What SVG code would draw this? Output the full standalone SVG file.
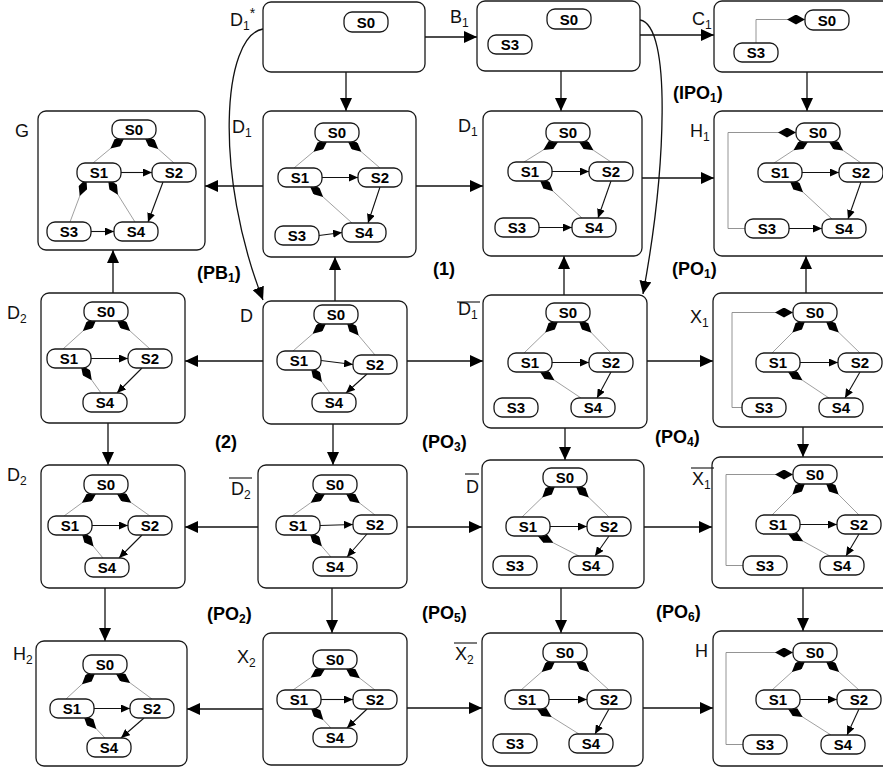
<svg xmlns="http://www.w3.org/2000/svg" width="883" height="771" viewBox="0 0 883 771">
<style>
.bx{fill:#fff;stroke:#1a1a1a;stroke-width:1.3}
.st{fill:#fff;stroke:#1a1a1a;stroke-width:1.3}
.t{font-family:"Liberation Sans",Arial,sans-serif;font-weight:bold;font-size:15px;text-anchor:middle;fill:#000}
.lb{font-family:"Liberation Sans",Arial,sans-serif;font-size:18px;fill:#111}
.op{font-family:"Liberation Sans",Arial,sans-serif;font-weight:bold;font-size:18px;fill:#000}
.cl{stroke:#888;stroke-width:0.8;fill:none;marker-end:url(#dia)}
.ar{stroke:#111;stroke-width:1.1;fill:none;marker-end:url(#sa)}
.lp{stroke:#888;stroke-width:0.9;fill:none;marker-end:url(#diaH)}
.e{stroke:#111;stroke-width:1.3;fill:none;marker-end:url(#ea)}
.ov{stroke:#111;stroke-width:1.1}
</style>
<defs>
<marker id="ea" markerUnits="userSpaceOnUse" viewBox="0 0 13 12" refX="13" refY="6" markerWidth="13" markerHeight="12" orient="auto"><path d="M0,0L13,6L0,12z" fill="#000"/></marker>
<marker id="sa" markerUnits="userSpaceOnUse" viewBox="0 0 9 8" refX="9" refY="4" markerWidth="9" markerHeight="8" orient="auto"><path d="M0,0L9,4L0,8z" fill="#000"/></marker>
<marker id="dia" markerUnits="userSpaceOnUse" viewBox="0 0 19 9" refX="15" refY="4.5" markerWidth="19" markerHeight="9" orient="auto"><path d="M0,4.5L9,0L19,4.5L9,9z" fill="#000"/></marker>
<marker id="diaH" markerUnits="userSpaceOnUse" viewBox="0 0 18 10" refX="18" refY="5" markerWidth="18" markerHeight="10" orient="auto"><path d="M0,5L9,0L18,5L9,10z" fill="#000"/></marker>
</defs>
<rect width="883" height="771" fill="#fff"/>

<g id="connectors">
<path class="e" d="M425,37H477"/>
<path class="e" d="M640,35H714"/>
<path class="e" d="M346,72V111"/>
<path class="e" d="M561,71V111"/>
<path class="e" d="M807,72V111"/>
<path class="e" d="M263,186H205"/>
<path class="e" d="M416,186H483"/>
<path class="e" d="M642,178H714"/>
<path class="e" d="M113,293V250"/>
<path class="e" d="M335,301V257"/>
<path class="e" d="M564,295V256"/>
<path class="e" d="M806,293V256"/>
<path class="e" d="M263,361H185"/>
<path class="e" d="M407,361H483"/>
<path class="e" d="M647,361H713"/>
<path class="e" d="M108,423V465"/>
<path class="e" d="M333,424V465"/>
<path class="e" d="M565,428V460"/>
<path class="e" d="M803,427V457"/>
<path class="e" d="M258,527H185"/>
<path class="e" d="M407,527H482"/>
<path class="e" d="M644,527H712"/>
<path class="e" d="M105,588V641"/>
<path class="e" d="M332,588V633"/>
<path class="e" d="M561,588V633"/>
<path class="e" d="M803,588V631"/>
<path class="e" d="M263,709H187"/>
<path class="e" d="M407,708H482"/>
<path class="e" d="M643,708H713"/>
<path class="e" d="M263,29C222,36 214,175 263,300"/>
<path class="e" d="M640,20C672,25 666,170 643,294"/>
</g>

<g id="D1star">
<rect class="bx" x="263" y="2" width="162" height="70" rx="8"/>
<rect class="st" x="344" y="12" width="44" height="20" rx="8"/><text class="t" x="366" y="27.5">S0</text>
<text class="lb" x="230" y="26">D<tspan font-size="12" dy="4">1</tspan><tspan font-size="14" dy="-12">*</tspan></text>
</g>

<g id="B1">
<rect class="bx" x="477" y="1" width="163" height="70" rx="8"/>
<rect class="st" x="547" y="9" width="44" height="20" rx="8"/><text class="t" x="569" y="24.5">S0</text>
<rect class="st" x="488" y="35" width="44" height="19" rx="8"/><text class="t" x="510" y="50">S3</text>
<text class="lb" x="450" y="23">B<tspan font-size="12" dy="4">1</tspan></text>
</g>

<g id="C1">
<rect class="bx" x="714" y="1" width="185" height="71" rx="8"/>
<path class="lp" d="M756,43V19.5H805"/>
<rect class="st" x="805" y="10" width="44" height="20" rx="8"/><text class="t" x="827" y="25.5">S0</text>
<rect class="st" x="734" y="43" width="44" height="19" rx="8"/><text class="t" x="756" y="58">S3</text>
<text class="lb" x="692" y="25">C<tspan font-size="12" dy="4">1</tspan></text>
</g>

<g id="G">
<rect class="bx" x="38" y="111" width="167" height="139" rx="8"/>
<path class="cl" d="M93,163L122,139"/>
<path class="cl" d="M174,163L147,139"/>
<path class="ar" d="M121,172.5H152"/>
<path class="ar" d="M163,182L148,222"/>
<path class="cl" d="M135,222L110,182"/>
<path class="cl" d="M70,222L85,182"/>
<path class="ar" d="M91,231.5H114"/>
<rect class="st" x="112" y="120" width="44" height="19" rx="8"/><text class="t" x="134" y="135">S0</text>
<rect class="st" x="77" y="163" width="44" height="19" rx="8"/><text class="t" x="99" y="178">S1</text>
<rect class="st" x="152" y="163" width="44" height="19" rx="8"/><text class="t" x="174" y="178">S2</text>
<rect class="st" x="47" y="222" width="44" height="19" rx="8"/><text class="t" x="69" y="237">S3</text>
<rect class="st" x="114" y="222" width="44" height="19" rx="8"/><text class="t" x="136" y="237">S4</text>
<text class="lb" x="15" y="137">G</text>
</g>

<g id="D1a">
<rect class="bx" x="263" y="111" width="153" height="146" rx="8"/>
<path class="cl" d="M294,168L325,142"/>
<path class="cl" d="M380,168L350,142"/>
<path class="ar" d="M322,177.5H358"/>
<path class="ar" d="M380,187L368,223"/>
<path class="cl" d="M352,223L312,187"/>
<path class="ar" d="M319,235.5L342,232.5"/>
<rect class="st" x="315" y="123" width="44" height="19" rx="8"/><text class="t" x="337" y="138">S0</text>
<rect class="st" x="278" y="168" width="44" height="19" rx="8"/><text class="t" x="300" y="183">S1</text>
<rect class="st" x="358" y="168" width="44" height="19" rx="8"/><text class="t" x="380" y="183">S2</text>
<rect class="st" x="275" y="226" width="44" height="19" rx="8"/><text class="t" x="297" y="241">S3</text>
<rect class="st" x="342" y="223" width="44" height="19" rx="8"/><text class="t" x="364" y="238">S4</text>
<text class="lb" x="232" y="133">D<tspan font-size="12" dy="4">1</tspan></text>
</g>

<g id="D1b">
<rect class="bx" x="483" y="111" width="159" height="145" rx="8"/>
<path class="cl" d="M524,162L556,142"/>
<path class="cl" d="M611,162L581,142"/>
<path class="ar" d="M552,171.5H589"/>
<path class="ar" d="M611,181L598,218"/>
<path class="cl" d="M582,218L542,181"/>
<path class="ar" d="M539,227.5H572"/>
<rect class="st" x="546" y="123" width="44" height="19" rx="8"/><text class="t" x="568" y="138">S0</text>
<rect class="st" x="508" y="162" width="44" height="19" rx="8"/><text class="t" x="530" y="177">S1</text>
<rect class="st" x="589" y="162" width="44" height="19" rx="8"/><text class="t" x="611" y="177">S2</text>
<rect class="st" x="495" y="218" width="44" height="19" rx="8"/><text class="t" x="517" y="233">S3</text>
<rect class="st" x="572" y="218" width="44" height="19" rx="8"/><text class="t" x="594" y="233">S4</text>
<text class="lb" x="458" y="132">D<tspan font-size="12" dy="4">1</tspan></text>
</g>

<g id="H1">
<rect class="bx" x="714" y="111" width="185" height="145" rx="8"/>
<path class="lp" d="M745,228.5H728V132.5H796"/>
<path class="cl" d="M774,163L806,142"/>
<path class="cl" d="M861,163L831,142"/>
<path class="ar" d="M802,172.5H839"/>
<path class="ar" d="M861,182L848,219"/>
<path class="cl" d="M832,219L792,182"/>
<path class="ar" d="M789,228.5H822"/>
<rect class="st" x="796" y="123" width="44" height="19" rx="8"/><text class="t" x="818" y="138">S0</text>
<rect class="st" x="758" y="163" width="44" height="19" rx="8"/><text class="t" x="780" y="178">S1</text>
<rect class="st" x="839" y="163" width="44" height="19" rx="8"/><text class="t" x="861" y="178">S2</text>
<rect class="st" x="745" y="219" width="44" height="19" rx="8"/><text class="t" x="767" y="234">S3</text>
<rect class="st" x="822" y="219" width="44" height="19" rx="8"/><text class="t" x="844" y="234">S4</text>
<text class="lb" x="690" y="137">H<tspan font-size="12" dy="4">1</tspan></text>
</g>

<g id="D2a">
<rect class="bx" x="41" y="293" width="144" height="130" rx="8"/>
<path class="cl" d="M63,349L94,321"/>
<path class="cl" d="M150,349L119,321"/>
<path class="ar" d="M91,358.5H128"/>
<path class="ar" d="M142,368L117,393"/>
<path class="cl" d="M101,393L83,368"/>
<rect class="st" x="84" y="302" width="44" height="19" rx="8"/><text class="t" x="106" y="317">S0</text>
<rect class="st" x="47" y="349" width="44" height="19" rx="8"/><text class="t" x="69" y="364">S1</text>
<rect class="st" x="128" y="349" width="44" height="19" rx="8"/><text class="t" x="150" y="364">S2</text>
<rect class="st" x="83" y="393" width="44" height="19" rx="8"/><text class="t" x="105" y="408">S4</text>
<text class="lb" x="7" y="319">D<tspan font-size="12" dy="4">2</tspan></text>
</g>

<g id="D">
<rect class="bx" x="263" y="301" width="144" height="123" rx="8"/>
<path class="cl" d="M293,351L324,324"/>
<path class="cl" d="M375,355L349,324"/>
<path class="ar" d="M321,360.5L353,364.5"/>
<path class="ar" d="M367,374L346,393"/>
<path class="cl" d="M330,393L313,370"/>
<rect class="st" x="314" y="305" width="44" height="19" rx="8"/><text class="t" x="336" y="320">S0</text>
<rect class="st" x="277" y="351" width="44" height="19" rx="8"/><text class="t" x="299" y="366">S1</text>
<rect class="st" x="353" y="355" width="44" height="19" rx="8"/><text class="t" x="375" y="370">S2</text>
<rect class="st" x="312" y="393" width="44" height="19" rx="8"/><text class="t" x="334" y="408">S4</text>
<text class="lb" x="240" y="322">D</text>
</g>

<g id="D1bar">
<rect class="bx" x="483" y="295" width="164" height="133" rx="8"/>
<path class="cl" d="M524,353L556,322"/>
<path class="cl" d="M611,353L581,322"/>
<path class="ar" d="M552,362.5H589"/>
<path class="ar" d="M611,372L597,398"/>
<path class="cl" d="M581,398L542,372"/>
<rect class="st" x="546" y="303" width="44" height="19" rx="8"/><text class="t" x="568" y="318">S0</text>
<rect class="st" x="508" y="353" width="44" height="19" rx="8"/><text class="t" x="530" y="368">S1</text>
<rect class="st" x="589" y="353" width="44" height="19" rx="8"/><text class="t" x="611" y="368">S2</text>
<rect class="st" x="494" y="398" width="44" height="19" rx="8"/><text class="t" x="516" y="413">S3</text>
<rect class="st" x="571" y="398" width="44" height="19" rx="8"/><text class="t" x="593" y="413">S4</text>
<text class="lb" x="458" y="315">D<tspan font-size="12" dy="4">1</tspan></text>
<line class="ov" x1="457" y1="302" x2="480" y2="302"/>
</g>

<g id="X1">
<rect class="bx" x="713" y="293" width="185" height="134" rx="8"/>
<path class="lp" d="M742,407.5H732V312.5H793"/>
<path class="cl" d="M772,353L803,322"/>
<path class="cl" d="M860,353L828,322"/>
<path class="ar" d="M800,362.5H838"/>
<path class="ar" d="M860,372L845,398"/>
<path class="cl" d="M829,398L790,372"/>
<rect class="st" x="793" y="303" width="44" height="19" rx="8"/><text class="t" x="815" y="318">S0</text>
<rect class="st" x="756" y="353" width="44" height="19" rx="8"/><text class="t" x="778" y="368">S1</text>
<rect class="st" x="838" y="353" width="44" height="19" rx="8"/><text class="t" x="860" y="368">S2</text>
<rect class="st" x="742" y="398" width="44" height="19" rx="8"/><text class="t" x="764" y="413">S3</text>
<rect class="st" x="819" y="398" width="44" height="19" rx="8"/><text class="t" x="841" y="413">S4</text>
<text class="lb" x="690" y="323">X<tspan font-size="12" dy="4">1</tspan></text>
</g>

<g id="D2b">
<rect class="bx" x="41" y="465" width="144" height="123" rx="8"/>
<path class="cl" d="M64,516L94,494"/>
<path class="cl" d="M150,516L119,494"/>
<path class="ar" d="M92,525.5H128"/>
<path class="ar" d="M142,535L119,558"/>
<path class="cl" d="M103,558L84,535"/>
<rect class="st" x="84" y="475" width="44" height="19" rx="8"/><text class="t" x="106" y="490">S0</text>
<rect class="st" x="48" y="516" width="44" height="19" rx="8"/><text class="t" x="70" y="531">S1</text>
<rect class="st" x="128" y="516" width="44" height="19" rx="8"/><text class="t" x="150" y="531">S2</text>
<rect class="st" x="85" y="558" width="44" height="19" rx="8"/><text class="t" x="107" y="573">S4</text>
<text class="lb" x="7" y="481">D<tspan font-size="12" dy="4">2</tspan></text>
</g>

<g id="D2bar">
<rect class="bx" x="258" y="465" width="149" height="123" rx="8"/>
<path class="cl" d="M292,516L323,494"/>
<path class="cl" d="M375,515L348,494"/>
<path class="ar" d="M320,525.5L353,524.5"/>
<path class="ar" d="M367,534L347,557"/>
<path class="cl" d="M331,557L312,535"/>
<rect class="st" x="313" y="475" width="44" height="19" rx="8"/><text class="t" x="335" y="490">S0</text>
<rect class="st" x="276" y="516" width="44" height="19" rx="8"/><text class="t" x="298" y="531">S1</text>
<rect class="st" x="353" y="515" width="44" height="19" rx="8"/><text class="t" x="375" y="530">S2</text>
<rect class="st" x="313" y="557" width="44" height="19" rx="8"/><text class="t" x="335" y="572">S4</text>
<text class="lb" x="231" y="495">D<tspan font-size="12" dy="4">2</tspan></text>
<line class="ov" x1="229" y1="478" x2="252" y2="478"/>
</g>

<g id="Dbar">
<rect class="bx" x="482" y="460" width="162" height="128" rx="8"/>
<path class="cl" d="M522,517L553,487"/>
<path class="cl" d="M609,517L578,487"/>
<path class="ar" d="M550,526.5H587"/>
<path class="ar" d="M609,536L595,556"/>
<path class="cl" d="M579,556L540,536"/>
<rect class="st" x="543" y="468" width="44" height="19" rx="8"/><text class="t" x="565" y="483">S0</text>
<rect class="st" x="506" y="517" width="44" height="19" rx="8"/><text class="t" x="528" y="532">S1</text>
<rect class="st" x="587" y="517" width="44" height="19" rx="8"/><text class="t" x="609" y="532">S2</text>
<rect class="st" x="493" y="556" width="44" height="19" rx="8"/><text class="t" x="515" y="571">S3</text>
<rect class="st" x="569" y="556" width="44" height="19" rx="8"/><text class="t" x="591" y="571">S4</text>
<text class="lb" x="466" y="493">D</text>
<line class="ov" x1="465" y1="474" x2="479" y2="474"/>
</g>

<g id="X1bar">
<rect class="bx" x="712" y="457" width="185" height="131" rx="8"/>
<path class="lp" d="M743,565.5H726V474.5H793"/>
<path class="cl" d="M772,515L803,484"/>
<path class="cl" d="M859,515L828,484"/>
<path class="ar" d="M800,524.5H837"/>
<path class="ar" d="M859,534L846,556"/>
<path class="cl" d="M830,556L790,534"/>
<rect class="st" x="793" y="465" width="44" height="19" rx="8"/><text class="t" x="815" y="480">S0</text>
<rect class="st" x="756" y="515" width="44" height="19" rx="8"/><text class="t" x="778" y="530">S1</text>
<rect class="st" x="837" y="515" width="44" height="19" rx="8"/><text class="t" x="859" y="530">S2</text>
<rect class="st" x="743" y="556" width="44" height="19" rx="8"/><text class="t" x="765" y="571">S3</text>
<rect class="st" x="820" y="556" width="44" height="19" rx="8"/><text class="t" x="842" y="571">S4</text>
<text class="lb" x="692" y="485">X<tspan font-size="12" dy="4">1</tspan></text>
<line class="ov" x1="691" y1="468" x2="714" y2="468"/>
</g>

<g id="H2">
<rect class="bx" x="36" y="641" width="151" height="125" rx="8"/>
<path class="cl" d="M66,699L93,674"/>
<path class="cl" d="M152,699L118,674"/>
<path class="ar" d="M94,708.5H130"/>
<path class="ar" d="M144,718L121,738"/>
<path class="cl" d="M105,738L86,718"/>
<rect class="st" x="83" y="655" width="44" height="19" rx="8"/><text class="t" x="105" y="670">S0</text>
<rect class="st" x="50" y="699" width="44" height="19" rx="8"/><text class="t" x="72" y="714">S1</text>
<rect class="st" x="130" y="699" width="44" height="19" rx="8"/><text class="t" x="152" y="714">S2</text>
<rect class="st" x="87" y="738" width="44" height="19" rx="8"/><text class="t" x="109" y="753">S4</text>
<text class="lb" x="13" y="660">H<tspan font-size="12" dy="4">2</tspan></text>
</g>

<g id="X2">
<rect class="bx" x="263" y="633" width="144" height="132" rx="8"/>
<path class="cl" d="M293,690L323,669"/>
<path class="cl" d="M375,690L348,669"/>
<path class="ar" d="M321,699.5H353"/>
<path class="ar" d="M367,709L347,728"/>
<path class="cl" d="M331,728L313,709"/>
<rect class="st" x="313" y="650" width="44" height="19" rx="8"/><text class="t" x="335" y="665">S0</text>
<rect class="st" x="277" y="690" width="44" height="19" rx="8"/><text class="t" x="299" y="705">S1</text>
<rect class="st" x="353" y="690" width="44" height="19" rx="8"/><text class="t" x="375" y="705">S2</text>
<rect class="st" x="313" y="728" width="44" height="19" rx="8"/><text class="t" x="335" y="743">S4</text>
<text class="lb" x="237" y="663">X<tspan font-size="12" dy="4">2</tspan></text>
</g>

<g id="X2bar">
<rect class="bx" x="482" y="633" width="161" height="133" rx="8"/>
<path class="cl" d="M521,690L553,662"/>
<path class="cl" d="M609,690L578,662"/>
<path class="ar" d="M549,699.5H587"/>
<path class="ar" d="M609,709L595,734"/>
<path class="cl" d="M579,734L539,709"/>
<rect class="st" x="543" y="643" width="44" height="19" rx="8"/><text class="t" x="565" y="658">S0</text>
<rect class="st" x="505" y="690" width="44" height="19" rx="8"/><text class="t" x="527" y="705">S1</text>
<rect class="st" x="587" y="690" width="44" height="19" rx="8"/><text class="t" x="609" y="705">S2</text>
<rect class="st" x="493" y="734" width="44" height="19" rx="8"/><text class="t" x="515" y="749">S3</text>
<rect class="st" x="569" y="734" width="44" height="19" rx="8"/><text class="t" x="591" y="749">S4</text>
<text class="lb" x="455" y="660">X<tspan font-size="12" dy="4">2</tspan></text>
<line class="ov" x1="454" y1="643" x2="477" y2="643"/>
</g>

<g id="H">
<rect class="bx" x="713" y="631" width="185" height="135" rx="8"/>
<path class="lp" d="M743,744.5H726V652.5H793"/>
<path class="cl" d="M772,690L803,662"/>
<path class="cl" d="M859,690L828,662"/>
<path class="ar" d="M800,699.5H837"/>
<path class="ar" d="M859,709L847,735"/>
<path class="cl" d="M831,735L790,709"/>
<rect class="st" x="793" y="643" width="44" height="19" rx="8"/><text class="t" x="815" y="658">S0</text>
<rect class="st" x="756" y="690" width="44" height="19" rx="8"/><text class="t" x="778" y="705">S1</text>
<rect class="st" x="837" y="690" width="44" height="19" rx="8"/><text class="t" x="859" y="705">S2</text>
<rect class="st" x="743" y="735" width="44" height="19" rx="8"/><text class="t" x="765" y="750">S3</text>
<rect class="st" x="821" y="735" width="44" height="19" rx="8"/><text class="t" x="843" y="750">S4</text>
<text class="lb" x="695" y="657">H</text>
</g>

<g id="op-labels">
<text class="op" x="197" y="279">(PB<tspan font-size="12" dy="3">1</tspan><tspan dy="-3">)</tspan></text>
<text class="op" x="433" y="275">(1)</text>
<text class="op" x="673" y="99">(IPO<tspan font-size="12" dy="3">1</tspan><tspan dy="-3">)</tspan></text>
<text class="op" x="672" y="275">(PO<tspan font-size="12" dy="3">1</tspan><tspan dy="-3">)</tspan></text>
<text class="op" x="215" y="448">(2)</text>
<text class="op" x="422" y="448">(PO<tspan font-size="12" dy="3">3</tspan><tspan dy="-3">)</tspan></text>
<text class="op" x="655" y="443">(PO<tspan font-size="12" dy="3">4</tspan><tspan dy="-3">)</tspan></text>
<text class="op" x="207" y="620">(PO<tspan font-size="12" dy="3">2</tspan><tspan dy="-3">)</tspan></text>
<text class="op" x="422" y="619">(PO<tspan font-size="12" dy="3">5</tspan><tspan dy="-3">)</tspan></text>
<text class="op" x="656" y="618">(PO<tspan font-size="12" dy="3">6</tspan><tspan dy="-3">)</tspan></text>
</g>
</svg>
